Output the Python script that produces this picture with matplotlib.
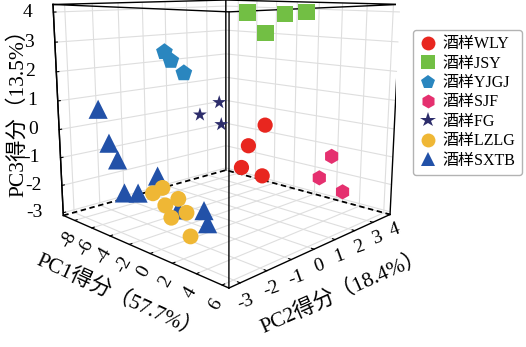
import numpy as np
import matplotlib
matplotlib.use('Agg')
import matplotlib.pyplot as plt
from matplotlib.lines import Line2D

plt.rcParams['font.family'] = ['Liberation Serif', 'Noto Sans CJK SC']
plt.rcParams['axes.unicode_minus'] = False
plt.rcParams['grid.color'] = '#dedede'
plt.rcParams['grid.linewidth'] = 0.8

# PCA scores (PC1, PC2, PC3)
names = ['酒样WLY', '酒样JSY', '酒样YJGJ', '酒样SJF', '酒样FG', '酒样LZLG', '酒样SXTB']
pc1 = [
    [2.5, 1.1, 0.5, 2.3],
    [-3.0, 0.4, 2.2, -1.3],
    [-8.3, -7.6, -6.2],
    [3.0, 2.0, 4.0],
    [-3.7, -5.7, -3.5],
    [-6.0, -6.5, -3.8, -3.4, -1.3, -1.3, 1.9],
    [-7.6, -6.5, -5.6, -6.5, -7.0, -6.3, -0.8, 1.1, -2.1],
]
pc2 = [
    [0.0, 0.0, 0.0, 0.0],
    [2.0, 2.0, 2.0, 2.0],
    [0.5, 0.5, 0.5],
    [3.0, 3.0, 3.0],
    [1.0, 1.0, 1.0],
    [-1.0, -0.4, -0.8, -1.5, -1.5, -2.1, -2.7],
    [-2.5, -2.5, -2.5, -0.6, -1.8, -1.5, -1.0, -1.7, -1.5],
]
pc3 = [
    [0.5, -0.3, -1.1, -1.2],
    [3.9, 3.9, 4.0, 3.2],
    [2.4, 2.1, 1.7],
    [-1.1, -2.0, -2.3],
    [0.7, 0.1, -0.1],
    [-2.5, -2.5, -2.5, -2.5, -2.5, -2.5, -2.5],
    [0.7, -0.4, -0.9, -2.0, -2.4, -2.4, -2.5, -2.5, -2.5],
]
colors = ['#e8261f', '#72bf44', '#2a86bf', '#e5306f', '#2d2d6b', '#efb735', '#2251a8']
markers = ['o', 's', 'p', 'h', '*', 'o', '^']
sizes = [120, 140, 160, 120, 110, 130, 190]
layer = [5, 5, 5, 5, 5, 6, 4]   # yellow circles sit on top of the triangles

x_ticks = [-8, -6, -4, -2, 0, 2, 4, 6]
y_ticks = [-3, -2, -1, 0, 1, 2, 3, 4]
z_ticks = [-3, -2, -1, 0, 1, 2, 3, 4]
x_lim = (-9.4, 6.5)
y_lim = (-3.4, 4.0)
z_lim = (-3.1, 4.25)

fig = plt.figure(figsize=(5.26, 3.47), dpi=100)
fig.patch.set_facecolor('white')
ax = fig.add_axes([0.0327, 0.1611, 0.78, 1.0], projection='3d', computed_zorder=False)
ax.set_proj_type('persp', focal_length=0.3573)
ax.view_init(elev=11, azim=-45.5)
ax.set_box_aspect((1, 1, 0.9), zoom=1.1165)
ax.set_xlim(*x_lim); ax.set_ylim(*y_lim); ax.set_zlim(*z_lim)

for axis in (ax.xaxis, ax.yaxis, ax.zaxis):
    axis.set_pane_color((1, 1, 1, 1))
    axis.pane.set_edgecolor('none')
    axis.line.set_color('k')
    axis.line.set_linewidth(1.0)
    axis._axinfo['tick']['inward_factor'] = 0.0
    axis._axinfo['tick']['outward_factor'] = 0.15
ax.zaxis.set_ticks_position('lower')

# box edges: solid frame, dashed back edges of the floor
x0, x1 = x_lim; y0, y1 = y_lim; z0, z1 = z_lim
for (xa, ya) in [(x0, y0), (x0, y1), (x1, y1), (x1, y0)]:
    ax.plot([xa, xa], [ya, ya], [z0, z1], color='k', lw=1.0, zorder=1)
ax.plot([x0, x0, x1, x1, x0], [y0, y1, y1, y0, y0], [z1] * 5, color='k', lw=1.0, zorder=1)
ax.plot([x0, x0, x1], [y0, y1, y1], [z0] * 3, color='k', lw=1.3, ls=(0, (3, 2)), zorder=1)

for i in range(len(names)):
    ax.scatter(pc1[i], pc2[i], pc3[i], c=colors[i], marker=markers[i], s=sizes[i],
               edgecolors='none', depthshade=False, zorder=layer[i])

ax.set_xticks(x_ticks)
ax.set_yticks(y_ticks)
ax.set_zticks(z_ticks)
ax.tick_params(axis='x', labelsize=14, pad=-4, labelrotation=60)
ax.tick_params(axis='y', labelsize=14, pad=-5, labelrotation=20)
ax.tick_params(axis='z', labelsize=14, pad=0)
fig.canvas.draw()
for t in ax.zaxis.get_majorticklabels():
    t.set_ha('right'); t.set_va('center')

fig.text(119 / 526, 1 - 296 / 347, 'PC1得分（57.7%）', fontsize=15.5, rotation=-24.5,
         ha='center', va='center', rotation_mode='anchor')
fig.text(343 / 526, 1 - 292 / 347, 'PC2得分（18.4%）', fontsize=15.5, rotation=24,
         ha='center', va='center', rotation_mode='anchor')
fig.text(18 / 526, 1 - 108 / 347, 'PC3得分（13.5%）', fontsize=15.5, rotation=90,
         ha='center', va='center', rotation_mode='anchor')

handles = [Line2D([], [], ls='none', marker=markers[i], color=colors[i],
                  markersize=11.5 if markers[i] == '*' else 10, markeredgewidth=0)
           for i in range(len(names))]
fig.legend(handles, names, loc='upper left', bbox_to_anchor=(413 / 526, 1 - 30 / 347), borderaxespad=0,
           fontsize=11.5, frameon=True, edgecolor='#a0a0a0', fancybox=True, handletextpad=0.4,
           labelspacing=0.21, borderpad=0.4, handlelength=1.07)

fig.savefig('out.png', dpi=100)
